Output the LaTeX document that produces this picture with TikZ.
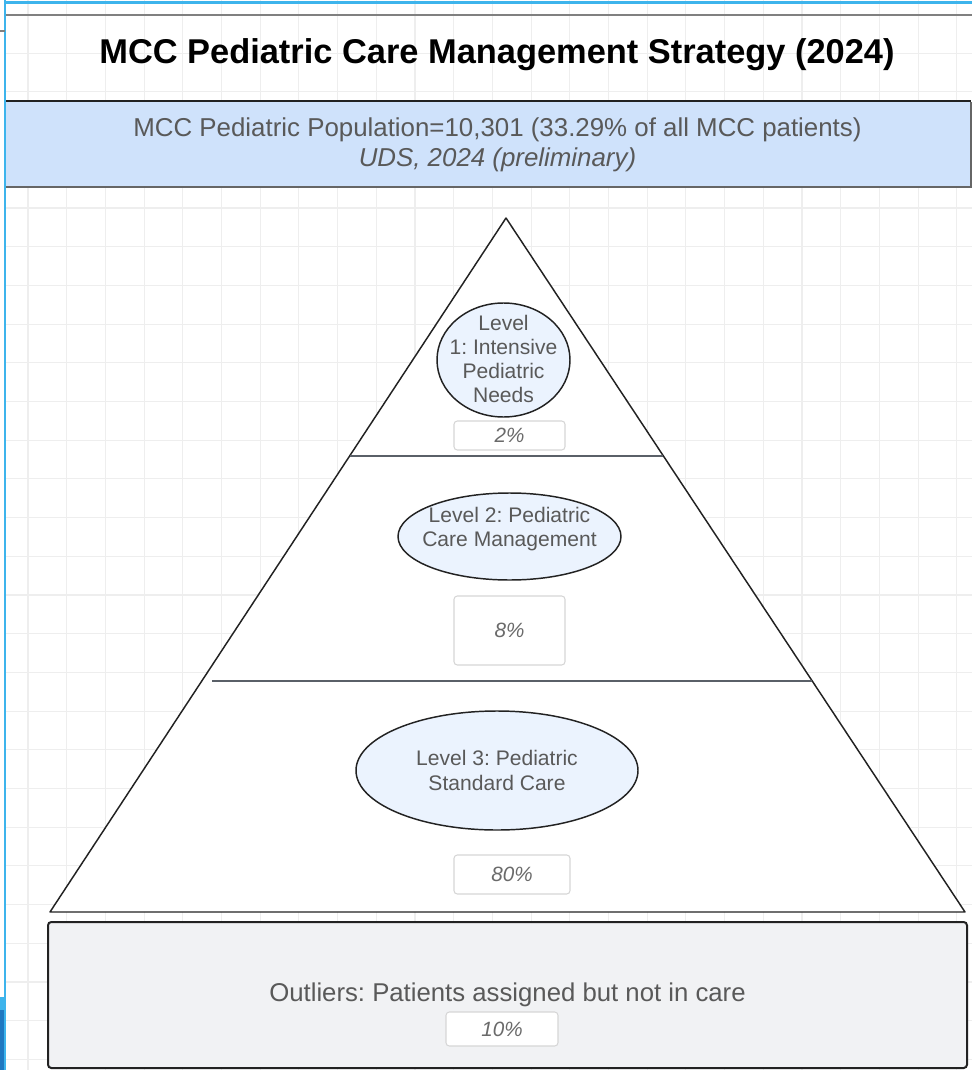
\documentclass[tikz,border=0pt]{standalone}
\usepackage{fontspec}
\setmainfont{Liberation Sans}
\usetikzlibrary{shapes.geometric}
\frenchspacing
\definecolor{gridline}{HTML}{EEEEEE}
\definecolor{selblue}{HTML}{3DB4EC}
\definecolor{darkblue}{HTML}{1F78C1}
\definecolor{bandblue}{HTML}{CFE2FB}
\definecolor{lvlfill}{HTML}{EBF3FE}
\definecolor{outfill}{HTML}{F1F2F4}
\definecolor{txtgray}{HTML}{595959}
\definecolor{pctgray}{HTML}{6A6A6A}
\definecolor{edge}{HTML}{222222}
\definecolor{divider}{HTML}{5A6068}
\definecolor{pctedge}{HTML}{D6D6D6}
\begin{document}
\begin{tikzpicture}[x=0.75pt,y=-0.75pt,
  lvl/.style={ellipse,draw=edge,line width=1.1pt,fill=lvlfill,inner sep=0pt},
  lvltext/.style={align=center,text=txtgray,inner sep=0pt,
    font=\fontsize{15.8}{18.5}\selectfont},
  pct/.style={rectangle,rounded corners=2.5pt,draw=pctedge,line width=0.8pt,fill=white,
    inner sep=0pt,text=pctgray,font=\fontsize{15.5}{18}\selectfont\itshape},
  divline/.style={draw=divider,line width=1.7pt},
]
\useasboundingbox (0,0) rectangle (972,1070);
\fill[white] (0,0) rectangle (972,1070);

% background grid
\foreach \k in {0,...,24}
  \draw[gridline,line width=0.8pt] (28+38.7*\k,0) -- (28+38.7*\k,1070);
\foreach \k in {0,...,27}
  \draw[gridline,line width=0.8pt] (5,14.5+38.7*\k) -- (972,14.5+38.7*\k);

% title band
\draw[gray,line width=2pt] (5,15) -- (972,15);
\node[font=\fontsize{25.8}{30}\selectfont\bfseries] (title) at (497,55)
  {MCC Pediatric Care Management Strategy (2024)};

% population band
\fill[bandblue] (5,102) rectangle (971,187);
\draw[edge,line width=1.5pt] (5,101.5) -- (971,101.5);
\draw[black!60,line width=1.5pt] (5,187) -- (971,187) -- (971,102);
\node[align=center,text=txtgray,font=\fontsize{19.4}{22.5}\selectfont] (pop) at (497.5,145)
  {MCC Pediatric Population=10,301 (33.29\% of all MCC patients)\\
   \itshape UDS, 2024 (preliminary)};

% pyramid
\coordinate (apex) at (506,218);
\coordinate (bl) at (50,912);
\coordinate (br) at (965,912);
\draw[edge,line width=1.1pt,fill=white,line join=round] (apex) -- (bl) -- (br) -- cycle;
\coordinate (d1l) at (350,456);
\coordinate (d1r) at (663,456);
\coordinate (d2l) at (212,681);
\coordinate (d2r) at (812,681);
\draw[divline] (d1l) -- (d1r);
\draw[divline] (d2l) -- (d2r);

% levels
\node[lvl,minimum width=99.75pt,minimum height=85.5pt] (l1) at (503.5,360) {};
\node[lvltext,font=\fontsize{15.8}{18}\selectfont] (l1t) at (503.5,359)
  {Level\\1: Intensive\\Pediatric\\Needs};
\node[pct,minimum width=83.25pt,minimum height=21.75pt] (p1) at (509.5,435.5) {2\%};

\node[lvl,minimum width=167.25pt,minimum height=65.25pt] (l2) at (509.5,536.5) {};
\node[lvltext] (l2t) at (509.5,529)
  {Level 2: Pediatric\\Care Management};
\node[pct,minimum width=83.25pt,minimum height=51.75pt] (p2) at (509.5,630.5) {8\%};

\node[lvl,minimum width=211.5pt,minimum height=89.25pt] (l3) at (497,770.5) {};
\node[lvltext] (l3t) at (497,770.5)
  {Level 3: Pediatric\\Standard Care};
\node[pct,minimum width=87pt,minimum height=29.25pt] (p3) at (512,874.5) {80\%};

% outliers
\node[rectangle,rounded corners=2.5pt,draw=edge,line width=1.5pt,fill=outfill,
  minimum width=689.25pt,minimum height=109.5pt,text=txtgray,
  font=\fontsize{19.3}{22}\selectfont] (out) at (507.5,995)
  {Outliers: Patients assigned but not in care};
\node[pct,minimum width=84pt,minimum height=25.5pt] (p4) at (502,1029) {10\%};

% selection outline and side markers
\draw[selblue,line width=1.6pt] (5,0) -- (5,1070);
\draw[selblue,line width=1.6pt] (5,2.5) -- (972,2.5);
\draw[gray,line width=1pt] (0,31) -- (5,31);
\fill[selblue] (0,997) rectangle (4.2,1010);
\fill[darkblue] (0,1010) rectangle (4.2,1070);
\end{tikzpicture}
\end{document}
